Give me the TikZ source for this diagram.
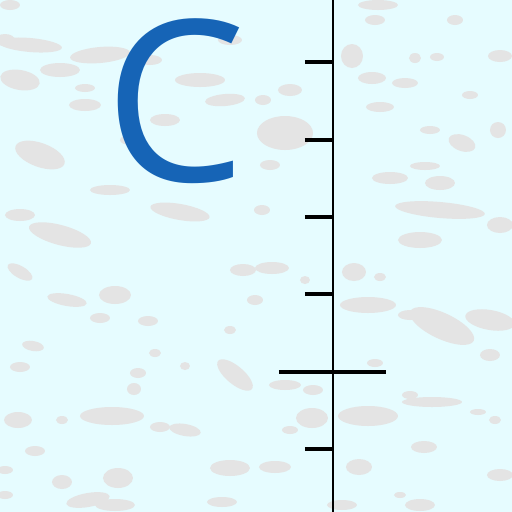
\documentclass[tikz,border=0pt]{standalone}
\usepackage{fontspec}
\newfontfamily\letterfont{Open Sans}
\definecolor{icebg}{RGB}{230,252,255}
\definecolor{iceblob}{RGB}{228,228,228}
\definecolor{letterblue}{RGB}{22,100,182}
\tikzset{
  blob/.style={fill=iceblob, draw=none},
  axisline/.style={draw=black, line width=1.7pt},
  tickline/.style={draw=black, line width=1.9pt},
  crossline/.style={draw=black, line width=2.2pt},
}
\begin{document}
\begin{tikzpicture}[x=0.02cm,y=-0.02cm]
\useasboundingbox (0,0) rectangle (512,512);
\fill[icebg] (0,0) rectangle (512,512);
% ice blobs
\foreach \x/\y/\a/\b/\r in {
 30/45/32/7/-5, 100/55/30/8/5, 5/40/10/6/0, 60/70/20/7/0, 20/80/20/10/-10,
 85/105/16/6/0, 40/155/26/12/-20, 110/190/20/5/0, 180/212/30/8/-10, 60/235/32/10/-15,
 20/215/15/6/0, 10/5/10/5/0, 200/80/25/7/0, 225/100/20/6/5, 165/120/15/6/0,
 130/140/10/5/0, 230/40/12/5/0,
 378/5/20/5/0, 455/20/8/5/0, 352/56/11/12/0, 372/78/14/6/0, 405/83/13/5/0,
 380/107/14/5/0, 500/56/12/6/0, 415/58/6/5/0, 437/57/7/4/0, 285/133/28/17/0,
 263/100/8/5/0, 462/143/14/8/-20, 498/130/8/8/0, 390/178/18/6/0, 440/183/15/7/0,
 425/166/15/4/0, 440/210/45/8/-5, 500/225/13/8/0, 420/240/22/8/0, 262/210/8/5/0,
 290/90/12/6/0, 270/165/10/5/0,
 20/272/14/6/-30, 67/300/20/6/-10, 115/295/16/9/0, 100/318/10/5/0, 148/321/10/5/0,
 243/270/13/6/0, 33/346/11/5/-10, 20/367/10/5/0, 155/353/6/4/0, 230/330/6/4/0,
 235/375/22/9/-40, 185/366/5/4/0, 138/373/8/5/0, 134/389/7/6/0, 112/416/32/9/0,
 62/420/6/4/0, 18/420/14/8/0, 160/427/10/5/0, 185/430/16/6/-10, 35/451/10/5/0,
 5/470/8/4/0, 118/478/15/10/0, 62/482/10/7/0, 88/500/22/7/10, 115/505/20/6/0,
 230/468/20/8/0, 222/502/15/5/0, 5/495/8/4/0, 85/88/10/4/0, 150/60/12/5/0,
 272/268/17/6/0, 354/272/12/9/0, 380/277/6/4/0, 305/280/5/4/0, 368/305/28/8/0,
 410/315/12/5/0, 442/326/35/13/-25, 490/320/25/10/-10, 490/355/10/6/0, 375/363/8/4/0,
 285/385/16/5/0, 313/390/10/5/0, 410/395/8/4/0, 432/402/30/5/0, 368/416/30/10/0,
 312/418/16/10/0, 290/430/8/4/0, 495/420/6/4/0, 478/412/8/3/0, 424/447/13/6/0,
 275/467/16/6/0, 359/467/13/8/0, 500/475/13/6/0, 400/495/6/3/0, 420/505/15/6/0,
 342/505/15/5/0, 375/20/10/5/0, 470/95/8/4/0, 430/130/10/4/0, 255/300/8/5/0
}{
  \fill[blob, rotate around={\r:(\x,\y)}] (\x,\y) ellipse [x radius=\a, y radius=\b];
}
% letter
\node[text=letterblue, font=\letterfont\fontsize{128}{128}\selectfont, inner sep=0pt, anchor=base west] (letter) at (104,181) {C};
% axis
\coordinate (atop) at (333,0);
\coordinate (abot) at (333,512);
\draw[axisline] (atop) -- (abot);
\foreach \ty/\nm in {62/t1,140/t2,217/t3,294/t4,449/t6}{
  \coordinate (\nm a) at (305,\ty);
  \coordinate (\nm b) at (333,\ty);
  \draw[tickline] (\nm a) -- (\nm b);
}
\coordinate (cl) at (279,372);
\coordinate (cr) at (386,372);
\draw[crossline] (cl) -- (cr);
\end{tikzpicture}
\end{document}
